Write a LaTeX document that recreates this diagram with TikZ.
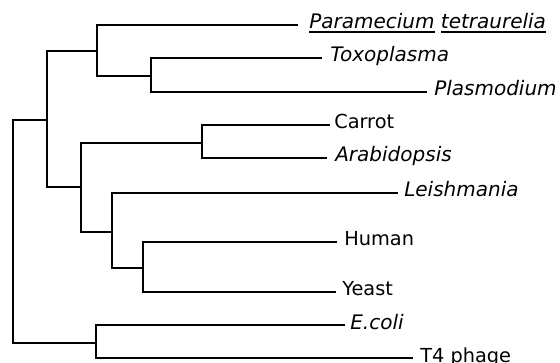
\documentclass[tikz,border=0pt]{standalone}
\usepackage{fontspec}
\setmainfont{DejaVu Sans}
\newcommand\ulword[1]{\vtop{\hbox{#1}\kern1.6pt\hrule height 1.3pt}}
\begin{document}
\begin{tikzpicture}[x=0.75pt,y=-0.75pt,
  br/.style={line width=1.7pt,line join=miter},
  lab/.style={anchor=base west,inner sep=0pt,font=\fontsize{14.5}{17}\selectfont},
  ilab/.style={lab,font=\fontsize{15}{17}\selectfont\itshape}]
\useasboundingbox (0,0) rectangle (560,363);
% leaf line ends
\coordinate (P) at (298,25);
\coordinate (Tx) at (322,58);
\coordinate (Pl) at (427,92);
\coordinate (Ca) at (330,125);
\coordinate (Ar) at (327,158);
\coordinate (Le) at (398,193);
\coordinate (Hu) at (337,242);
\coordinate (Ye) at (336,292);
\coordinate (Ec) at (345,325);
\coordinate (T4) at (413,358);
% internal nodes
\coordinate (ntp) at (151,76);
\coordinate (napi) at (97,51);
\coordinate (nca) at (202,143);
\coordinate (nhy) at (143,268);
\coordinate (nlhy) at (112,232);
\coordinate (npl) at (81,187);
\coordinate (neuk) at (47,120);
\coordinate (nect) at (96,343);
\coordinate (root) at (13,230);
% branches
\draw[br] (Tx) -| (ntp) |- (Pl);
\draw[br] (P) -| (napi) |- (ntp);
\draw[br] (Ca) -| (nca) |- (Ar);
\draw[br] (Hu) -| (nhy) |- (Ye);
\draw[br] (Le) -| (nlhy) |- (nhy);
\draw[br] (nca) -| (npl) |- (nlhy);
\draw[br] (napi) -| (neuk) |- (npl);
\draw[br] (Ec) -| (nect) |- (T4);
\draw[br] (neuk) -| (root) |- (nect);
% labels
\node[ilab] (tP) at (309,29) {\ulword{Paramecium} \ulword{tetraurelia}};
\node[ilab] (tTx) at (330,62) {Toxoplasma};
\node[ilab] (tPl) at (434,96) {Plasmodium};
\node[lab] (tCa) at (334,129) {Carrot};
\node[ilab] (tAr) at (335,162) {Arabidopsis};
\node[ilab] (tLe) at (404,197) {Leishmania};
\node[lab] (tHu) at (344,246) {Human};
\node[lab] (tYe) at (342,296) {Yeast};
\node[ilab] (tEc) at (350,329) {E.coli};
\node[lab] (tT4) at (420,362.5) {T4 phage};
\end{tikzpicture}
\end{document}
